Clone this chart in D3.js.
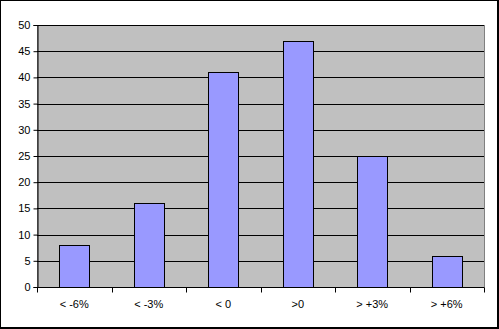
<!DOCTYPE html>
<html>
<head>
<meta charset="utf-8">
<script src="https://cdn.jsdelivr.net/npm/d3@7"></script>
<style>
  body{margin:0;background:#fff;}
  text{font-family:Arial,"Liberation Sans",sans-serif;font-size:11px;fill:#000;}
</style>
</head>
<body>
<div id="chart"></div>
<script>
const categories = ["< -6%","< -3%","< 0",">0","> +3%","> +6%"];
const counts = [8,16,41,47,25,6];
const yTicks = [0,5,10,15,20,25,30,35,40,45,50];

const W = 499, H = 329;
const margin = {"top":25,"right":15,"bottom":42,"left":37};
const width = W - margin.left - margin.right;
const height = H - margin.top - margin.bottom;

const svg = d3.select("#chart")
  .append("svg")
  .attr("width",W)
  .attr("height",H);

// outer frame
svg.append("rect")
  .attr("x",0.5).attr("y",0.5)
  .attr("width",W-2).attr("height",H-2)
  .attr("fill","#fff")
  .attr("stroke","#000")
  .attr("stroke-width",1);
svg.append("path")
  .attr("d",`M${W-1},0V${H-1}H0`)
  .attr("fill","none")
  .attr("stroke","#000")
  .attr("stroke-width",2);

const g = svg.append("g")
  .attr("transform",`translate(${margin.left},${margin.top})`);

const x = d3.scaleBand().domain(categories).range([0,width]).paddingInner(0.6).paddingOuter(0.3);
const xEdge = d3.scaleLinear().domain([0,categories.length]).range([0,width]);
const y = d3.scaleLinear().domain([0,50]).range([height,0]);

// plot area
g.append("rect")
  .attr("width",width).attr("height",height)
  .attr("fill","#c0c0c0")
  .attr("stroke","#808080")
  .attr("stroke-width",1)
  .attr("shape-rendering","crispEdges");

// gridlines
g.append("g")
  .selectAll("line")
  .data(yTicks.filter(d => d > 0))
  .join("line")
  .attr("x1",0).attr("x2",width)
  .attr("y1",d => Math.round(y(d))+0.5)
  .attr("y2",d => Math.round(y(d))+0.5)
  .attr("stroke","#000")
  .attr("stroke-width",1);

// bars
g.append("g")
  .selectAll("rect")
  .data(counts)
  .join("rect")
  .attr("x",(d,i) => Math.round(x(categories[i]))+0.5)
  .attr("y",d => Math.round(y(d))+0.5)
  .attr("width",Math.round(x.bandwidth()))
  .attr("height",d => Math.round(y(0)) - Math.round(y(d)))
  .attr("fill","#9999ff")
  .attr("stroke","#000")
  .attr("stroke-width",1);

// y axis
const yAxis = g.append("g")
  .attr("transform","translate(0.5,0)")
  .call(d3.axisLeft(y).tickValues(yTicks).tickSize(4).tickPadding(3));
yAxis.select(".domain").attr("stroke","#000");
yAxis.selectAll(".tick line").attr("stroke","#000");
yAxis.selectAll("text").style("font-size","11px").attr("fill","#000");

// x axis: baseline + ticks at category edges
const xa = g.append("g").attr("transform",`translate(0,${Math.round(height)+0.5})`);
xa.append("line").attr("x1",0).attr("x2",width).attr("stroke","#000");
xa.selectAll("line.tk")
  .data(d3.range(categories.length+1))
  .join("line")
  .attr("class","tk")
  .attr("x1",d => Math.round(xEdge(d))+0.5)
  .attr("x2",d => Math.round(xEdge(d))+0.5)
  .attr("y1",0).attr("y2",5)
  .attr("stroke","#000");
xa.selectAll("text")
  .data(categories)
  .join("text")
  .attr("x",d => x(d) + x.bandwidth()/2)
  .attr("y",20)
  .attr("text-anchor","middle")
  .text(d => d);
</script>
</body>
</html>
